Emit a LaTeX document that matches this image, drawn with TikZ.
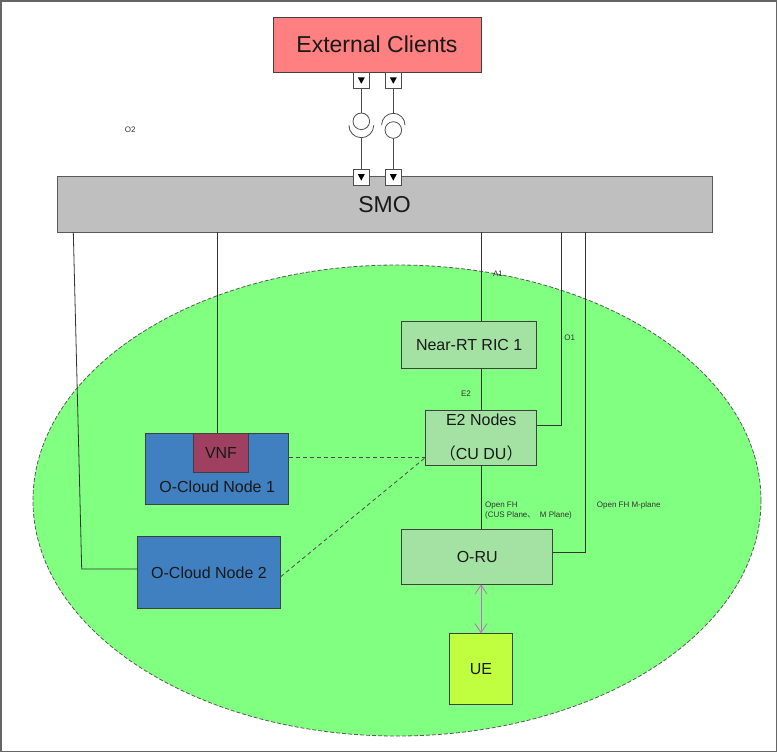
\documentclass[tikz,border=0pt]{standalone}
\usepackage{fontspec}
\setmainfont{Liberation Sans}
\newfontfamily\cjk{Noto Sans CJK SC}
\usetikzlibrary{arrows.meta,calc}
\definecolor{extred}{HTML}{FF8080}
\definecolor{smogray}{HTML}{BFBFBF}
\definecolor{domgreen}{HTML}{80FF80}
\definecolor{boxgreen}{HTML}{A4E2A4}
\definecolor{cloudblue}{HTML}{4080C0}
\definecolor{vnfred}{HTML}{A04060}
\definecolor{uelime}{HTML}{BFFF40}
\definecolor{arrviolet}{HTML}{CC66CC}
\begin{document}
\begin{tikzpicture}[x=1pt,y=-1pt,
  box/.style={draw=black!75, line width=0.8pt, inner sep=0pt, outer sep=0pt, text=black!90},
  conn/.style={draw=black!80, line width=0.8pt},
  dashconn/.style={draw=black!70, line width=0.8pt, dash pattern=on 4pt off 3pt},
  lbl/.style={font=\fontsize{8}{10}\selectfont, text=black!80, inner sep=0pt},
  big/.style={font=\fontsize{23}{27}\selectfont},
  mid/.style={font=\fontsize{16}{19}\selectfont},
  port/.style={draw=black!70, fill=white, line width=0.8pt, minimum width=16pt, minimum height=16.5pt, inner sep=0pt, outer sep=0pt,
    path picture={\fill[black] ([shift={(-3.5pt,3.2pt)}]path picture bounding box.center) -- ++(7pt,0pt) -- ++(-3.5pt,-6.5pt) -- cycle;}},
  ball/.style={draw=black!70, line width=0.8pt, circle, minimum size=16.6pt, inner sep=0pt, outer sep=0pt},
  sock/.style={draw=black!70, line width=0.8pt}
]
\useasboundingbox (0,0) rectangle (778,753);
% frame
\draw[draw=black!60, line width=1.3pt] (1,1) rectangle (776.5,751.5);
% domain ellipse
\path[fill=domgreen, draw=black!65, line width=0.8pt, dash pattern=on 4pt off 2pt] (397,500.5) ellipse [x radius=364pt, y radius=235.5pt];

% boxes
\node[box, fill=extred, minimum width=208pt, minimum height=55pt, big] (ext) at (377,44.5) {External Clients};
\node[box, draw=black!65, fill=smogray, minimum width=655pt, minimum height=55.5pt, big] (smo) at (384.5,204.25) {SMO};
\node[box, fill=boxgreen, minimum width=135pt, minimum height=47.3pt, mid] (ric) at (469.2,344.7) {Near-RT RIC 1};
\node[box, fill=boxgreen, minimum width=111pt, minimum height=55pt, mid, align=center] (e2) at (481.2,437.8) {E2 Nodes\\[15pt]{\cjk （}CU DU{\cjk ）}};
\node[box, fill=boxgreen, minimum width=151pt, minimum height=55.3pt, mid] (oru) at (477.2,556.7) {O-RU};
\node[box, fill=uelime, minimum width=63.4pt, minimum height=71pt, mid] (ue) at (481,668.8) {UE};
\node[box, fill=cloudblue, minimum width=143pt, minimum height=71.3pt,
  label={[mid, text=black!90, yshift=-18pt]center:O-Cloud Node 1}] (oc1) at (217.2,468.7) {};
\node[box, fill=vnfred, minimum width=55.4pt, minimum height=39.3pt, mid] (vnf) at (221,452.7) {VNF};
\node[box, fill=cloudblue, minimum width=143.4pt, minimum height=71.6pt, mid] (oc2) at (209,572.5) {O-Cloud Node 2};

% ports and interface symbols
\node[port] (p1) at (361.3,80.5) {};
\node[port] (p2) at (393.3,80.5) {};
\node[port] (p3) at (361.3,177.3) {};
\node[port] (p4) at (393.3,177.3) {};
\node[ball] (b1) at (361.3,121.3) {};
\node[ball] (b2) at (393.3,130) {};
\coordinate (cup1) at (361.3,137.7);
\coordinate (cap2) at (393.3,113.3);
\draw[sock] ([xshift=-12.4pt]361.3,125.3) arc[start angle=180, end angle=360, radius=12.4pt];
\draw[sock] ([xshift=11.7pt]393.3,125) arc[start angle=0, end angle=180, radius=11.7pt];
\draw[conn, draw=black!70] (p1.south) -- (b1.north);
\draw[conn, draw=black!70] (cup1) -- (p3.north);
\draw[conn, draw=black!70] (p2.south) -- (cap2);
\draw[conn, draw=black!70] (b2.south) -- (p4.north);

% connectors from SMO
\coordinate (o2top) at (73.3,0);
\coordinate (o2bend) at (81.7,569);
\draw[conn] (o2top |- smo.south) -- (o2bend) -- (o2bend -| oc2.west);
\coordinate (vx) at ([xshift=-3.7pt]vnf.north);
\draw[conn] (vx |- smo.south) -- (vx);
\draw[conn] (e2.north |- smo.south) -- (e2.north |- ric.north);
\draw[conn] (e2.north |- ric.south) -- (e2.north);
\coordinate (o1bend) at (561.7,425);
\draw[conn] (o1bend |- smo.south) -- (o1bend) -- (o1bend -| e2.east);
\coordinate (mbend) at (585.3,552.7);
\draw[conn] (mbend |- smo.south) -- (mbend) -- (mbend -| oru.east);
\draw[conn] (e2.south) -- (e2.south |- oru.north);
\draw[draw=arrviolet, line width=0.8pt, {Straight Barb[length=9pt,width=12pt]}-{Straight Barb[length=9pt,width=12pt]}] (ue.north |- oru.south) -- (ue.north);

% dashed links
\coordinate (dj) at (0,457.3);
\draw[dashconn] (oc1.east |- dj) -- (e2.west |- dj);
\draw[dashconn] (oc2.east |- 0,576.7) -- (e2.west |- dj);

% labels
\node[lbl] (lo2) at (130.3,129.3) {O2};
\node[lbl] (la1) at (498,273.3) {A1};
\node[lbl] (lo1) at (569.7,337.3) {O1};
\node[lbl] (le2) at (466,393.3) {E2};
\node[lbl, anchor=west, align=left] (lfh) at (485,510.8) {Open FH\\(CUS Plane{\cjk 、}\ \ M Plane)};
\node[lbl, anchor=west] (lfhm) at (596.7,505.3) {Open FH M-plane};
\end{tikzpicture}
\end{document}
